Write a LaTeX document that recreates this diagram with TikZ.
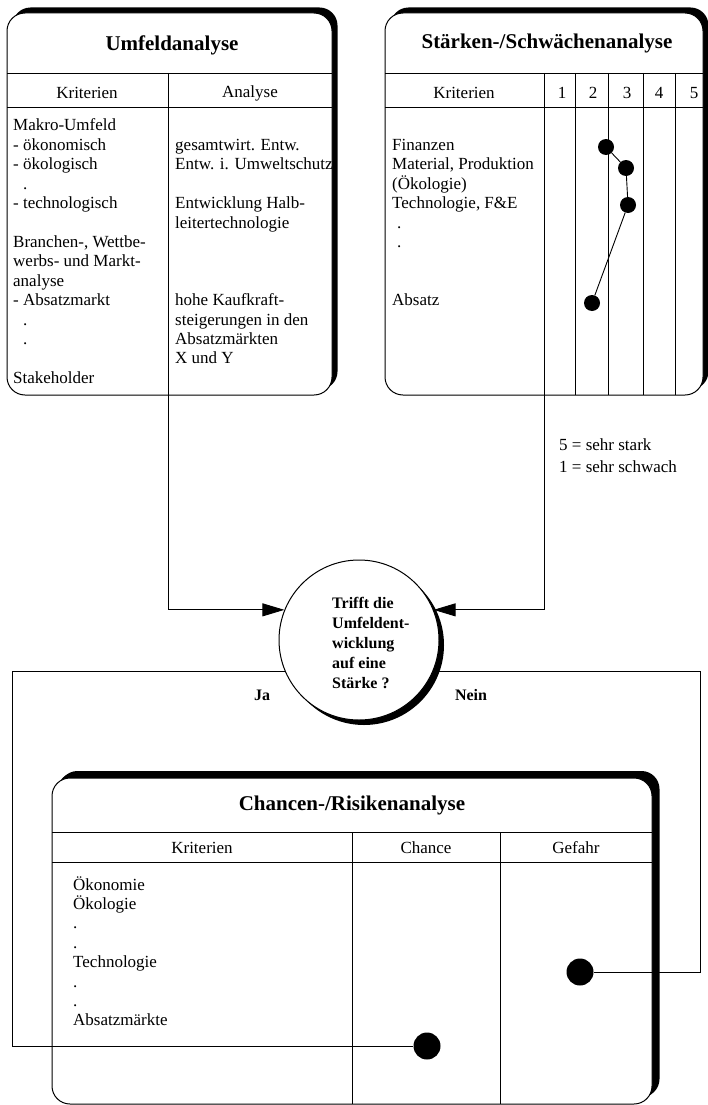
\documentclass[tikz,border=0pt]{standalone}
\usepackage{fontspec}
\setmainfont{Liberation Serif}
\usepackage{tikz}
\usetikzlibrary{shadows,arrows.meta,positioning}
\tikzset{
  kasten/.style={draw, fill=white, line width=1pt, rounded corners=18pt,
    general shadow={fill=black, shadow xshift=5.5pt, shadow yshift=5.5pt}},
  kreis/.style={circle, draw, fill=white, line width=1pt, minimum size=160pt, inner sep=0pt,
    general shadow={fill=black, shadow xshift=5pt, shadow yshift=-5pt}},
  titel/.style={inner sep=0pt, font=\bfseries\fontsize{21}{24}\selectfont},
  kopf/.style={inner sep=0pt, font=\fontsize{17}{20}\selectfont},
  zeile/.style={anchor=base west, inner sep=0pt, font=\fontsize{17}{19.4}\selectfont},
  marke/.style={inner sep=0pt, font=\bfseries\fontsize{16}{20}\selectfont},
  punkt/.style={circle, fill=black, inner sep=0pt, minimum size=16pt},
  grosspunkt/.style={circle, fill=black, inner sep=0pt, minimum size=27pt},
  linie/.style={line width=0.9pt},
  pfeil/.style={line width=0.9pt, -{Triangle[length=22pt,width=13pt]}}
}
\begin{document}
\begin{tikzpicture}[x=1pt, y=-1pt]
\useasboundingbox (0,0) rectangle (708,1105);

% Umfeldanalyse
\node[kasten, minimum width=325pt, minimum height=382pt] (umfeld) at (169.5,204) {};
\draw[linie] (7,73) -- (332,73) (7,107) -- (332,107) (168,73) -- (168,395);
\node[titel] (umfeld-titel) at (172,45) {Umfeldanalyse};
\node[kopf] (umfeld-krit) at (87,93) {Kriterien};
\node[kopf] (umfeld-ana) at (250,93) {Analyse};
\foreach \k/\t in {0/Makro-Umfeld, 1/- ökonomisch, 2/- ökologisch, 4/- technologisch,
    6/{Branchen-, Wettbe-}, 7/werbs- und Markt-, 8/analyse, 9/- Absatzmarkt, 13/Stakeholder}
  \node[zeile] (umfeld-l\k) at (13,{131+19.4*\k}) {\t};
\foreach \k in {3,10,11}
  \node[zeile] (umfeld-p\k) at (23,{131+19.4*\k}) {.};
\foreach \k/\t in {1/gesamtwirt. Entw., 2/Entw. i. Umweltschutz, 4/Entwicklung Halb-,
    5/leitertechnologie, 9/hohe Kaufkraft-, 10/steigerungen in den, 11/Absatzmärkten, 12/X und Y}
  \node[zeile] (umfeld-r\k) at (175,{131+19.4*\k}) {\t};

% Staerken-/Schwaechenanalyse
\node[kasten, minimum width=318pt, minimum height=382pt] (staerken) at (544,204) {};
\draw[linie] (385,73) -- (703,73) (385,107) -- (703,107);
\foreach \x in {544,575,608,643,675}
  \draw[linie] (\x,73) -- (\x,395);
\node[titel] (staerken-titel) at (547,43) {Stärken-/Schwächenanalyse};
\node[kopf] (staerken-krit) at (464,93) {Kriterien};
\foreach \n/\x in {1/562, 2/593, 3/627, 4/659, 5/694}
  \node[kopf] (stufe\n) at (\x,93) {\n};
\foreach \k/\t in {1/Finanzen, 2/{Material, Produktion}, 3/{(Ökologie)},
    4/{Technologie, F\&E}, 9/Absatz}
  \node[zeile] (staerken-l\k) at (392,{131+19.4*\k}) {\t};
\foreach \k in {5,6}
  \node[zeile] (staerken-p\k) at (397,{131+19.4*\k}) {.};
\node[punkt] (profil1) at (606,147) {};
\node[punkt] (profil2) at (626,168) {};
\node[punkt] (profil3) at (628,205) {};
\node[punkt] (profil4) at (592,303) {};
\draw[linie] (profil1) -- (profil2) -- (profil3) -- (profil4);

\node[zeile] (skala5) at (559,450) {5 = sehr stark};
\node[zeile] (skala1) at (559,472) {1 = sehr schwach};

% Entscheidung
\node[kreis] (frage) at (359,640) {};
\node[marke, align=left, anchor=north west] (frage-text) at (332,597)
  {Trifft die\\Umfeldent-\\wicklung\\auf eine\\Stärke ?};
\node[marke] (ja) at (262,695) {Ja};
\node[marke] (nein) at (471,695) {Nein};

% Chancen-/Risikenanalyse
\node[kasten, minimum width=600pt, minimum height=326pt,
  general shadow={fill=black, shadow xshift=7.5pt, shadow yshift=7pt}] (chancen) at (352,941) {};
\draw[linie] (52,832) -- (652,832) (52,862) -- (652,862) (352,832) -- (352,1104) (500,832) -- (500,1104);
\node[titel] (chancen-titel) at (352,805) {Chancen-/Risikenanalyse};
\node[kopf] (chancen-krit) at (202,848) {Kriterien};
\node[kopf] (chancen-chance) at (426,848) {Chance};
\node[kopf] (chancen-gefahr) at (576,848) {Gefahr};
\foreach \k/\t in {0/Ökonomie, 1/Ökologie, 2/., 3/., 4/Technologie, 5/., 6/., 7/Absatzmärkte}
  \node[zeile] (chancen-l\k) at (73,{890+19.4*\k}) {\t};
\node[grosspunkt] (chance-punkt) at (427,1046) {};
\node[grosspunkt] (gefahr-punkt) at (580,972) {};

% Verbindungen
\coordinate (umfeld-fuss) at (168,395);
\coordinate (staerken-fuss) at (544,395);
\coordinate (ja-ecke) at (12,1046);
\coordinate (nein-ecke) at (700,972);
\draw[pfeil] (umfeld-fuss) |- (frage.158);
\draw[pfeil] (staerken-fuss) |- (frage.22);
\draw[linie] (frage.203) -| (ja-ecke) -- (chance-punkt);
\draw[linie] (frage.-23) -| (nein-ecke) -- (gefahr-punkt);
\end{tikzpicture}
\end{document}
